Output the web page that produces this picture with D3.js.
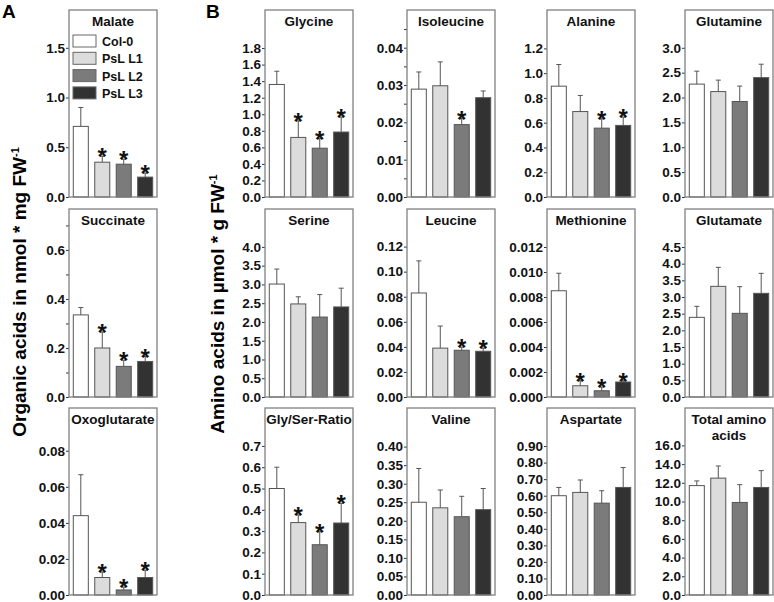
<!DOCTYPE html>
<html>
<head>
<meta charset="utf-8">
<script src="https://cdn.jsdelivr.net/npm/d3@7"></script>
<style>
  body { margin: 0; background: #fff; }
  svg { font-family: Arial, "Liberation Sans", sans-serif; font-weight: bold; }
</style>
</head>
<body>
<script>
//genotypes shown in every panel
var groups = ["Col-0", "PsL L1", "PsL L2", "PsL L3"];
var groupFill = ["#ffffff", "#dcdcdc", "#7b7b7b", "#323232"];

//means and standard deviations
var malate = [0.71, 0.35, 0.33, 0.20],        malateSd = [0.19, 0.06, 0.05, 0.04];
var succinate = [0.335, 0.20, 0.125, 0.145],  succinateSd = [0.03, 0.065, 0.025, 0.02];
var oxoglutarate = [0.044, 0.0097, 0.0028, 0.0097], oxoglutarateSd = [0.0227, 0.003, 0.0016, 0.004];
var glycine = [1.36, 0.72, 0.59, 0.785],      glycineSd = [0.16, 0.20, 0.115, 0.18];
var isoleucine = [0.0289, 0.0298, 0.0194, 0.0266], isoleucineSd = [0.0046, 0.0064, 0.0016, 0.0018];
var alanine = [0.895, 0.69, 0.556, 0.578],    alanineSd = [0.175, 0.13, 0.075, 0.067];
var glutamine = [2.27, 2.12, 1.92, 2.40],     glutamineSd = [0.26, 0.23, 0.31, 0.27];
var serine = [3.01, 2.48, 2.13, 2.40],        serineSd = [0.40, 0.19, 0.60, 0.50];
var leucine = [0.083, 0.039, 0.0373, 0.0365], leucineSd = [0.0256, 0.0176, 0.0025, 0.0025];
var methionine = [0.0085, 0.0009, 0.0005, 0.0012], methionineSd = [0.0014, 0.0004, 0.0003, 0.0001];
var glutamate = [2.39, 3.32, 2.51, 3.11],     glutamateSd = [0.33, 0.57, 0.80, 0.60];
var glyser = [0.50, 0.34, 0.236, 0.338],      glyserSd = [0.10, 0.036, 0.061, 0.092];
var valine = [0.250, 0.235, 0.211, 0.230],    valineSd = [0.091, 0.048, 0.055, 0.057];
var aspartate = [0.60, 0.62, 0.555, 0.65],    aspartateSd = [0.05, 0.075, 0.075, 0.12];
var totalaa = [11.7, 12.5, 9.9, 11.5],        totalaaSd = [0.5, 1.3, 1.9, 1.8];

//significance marks (one flag per genotype)
var sigAll = [false, true, true, true];
var sigNone = [false, false, false, false];

//tick labels per panel
var malateTicks = [0, 0.5, 1.0, 1.5];
var succinateTicks = [0, 0.2, 0.4, 0.6];
var oxoTicks = [0, 0.02, 0.04, 0.06, 0.08];
var glycineTicks = [0, 0.2, 0.4, 0.6, 0.8, 1.0, 1.2, 1.4, 1.6, 1.8];
var isoleucineTicks = [0, 0.01, 0.02, 0.03, 0.04];
var alanineTicks = [0, 0.2, 0.4, 0.6, 0.8, 1.0, 1.2];
var glutamineTicks = [0, 0.5, 1.0, 1.5, 2.0, 2.5, 3.0];
var serineTicks = [0, 0.5, 1.0, 1.5, 2.0, 2.5, 3.0, 3.5, 4.0];
var leucineTicks = [0, 0.02, 0.04, 0.06, 0.08, 0.10, 0.12];
var methionineTicks = [0, 0.002, 0.004, 0.006, 0.008, 0.010, 0.012];
var glutamateTicks = [0, 0.5, 1.0, 1.5, 2.0, 2.5, 3.0, 3.5, 4.0, 4.5];
var glyserTicks = [0, 0.1, 0.2, 0.3, 0.4, 0.5, 0.6, 0.7];
var valineTicks = [0, 0.05, 0.10, 0.15, 0.20, 0.25, 0.30, 0.35, 0.40];
var aspartateTicks = [0, 0.1, 0.2, 0.3, 0.4, 0.5, 0.6, 0.7, 0.8, 0.9];
var totalTicks = [0, 2, 4, 6, 8, 10, 12, 14, 16];

var width = 774, height = 602;

var svg = d3.select("body").append("svg")
    .attr("width", width)
    .attr("height", height);

//panel frame positions
var colX = [69, 265, 407, 547, 685];
var rowTop = [10, 209, 408];
var rowBottom = [197, 397, 595];
var frameW = 88;

var panels = [
    {title: ["Malate"], col: 0, row: 0, v: malate, sd: malateSd, sig: sigAll, max: 1.88, ticks: malateTicks, dec: 1, legend: true},
    {title: ["Succinate"], col: 0, row: 1, v: succinate, sd: succinateSd, sig: sigAll, max: 0.767, ticks: succinateTicks, dec: 1, minor: 0.1},
    {title: ["Oxoglutarate"], col: 0, row: 2, v: oxoglutarate, sd: oxoglutarateSd, sig: sigAll, max: 0.1037, ticks: oxoTicks, dec: 2},
    {title: ["Glycine"], col: 1, row: 0, v: glycine, sd: glycineSd, sig: sigAll, max: 2.26, ticks: glycineTicks, dec: 1},
    {title: ["Isoleucine"], col: 2, row: 0, v: isoleucine, sd: isoleucineSd, sig: [false, false, true, false], max: 0.0501, ticks: isoleucineTicks, dec: 2, minor: 0.005},
    {title: ["Alanine"], col: 3, row: 0, v: alanine, sd: alanineSd, sig: [false, false, true, true], max: 1.51, ticks: alanineTicks, dec: 1},
    {title: ["Glutamine"], col: 4, row: 0, v: glutamine, sd: glutamineSd, sig: sigNone, max: 3.76, ticks: glutamineTicks, dec: 1},
    {title: ["Serine"], col: 1, row: 1, v: serine, sd: serineSd, sig: sigNone, max: 5.01, ticks: serineTicks, dec: 1},
    {title: ["Leucine"], col: 2, row: 1, v: leucine, sd: leucineSd, sig: [false, false, true, true], max: 0.150, ticks: leucineTicks, dec: 2},
    {title: ["Methionine"], col: 3, row: 1, v: methionine, sd: methionineSd, sig: sigAll, max: 0.01504, ticks: methionineTicks, dec: 3},
    {title: ["Glutamate"], col: 4, row: 1, v: glutamate, sd: glutamateSd, sig: sigNone, max: 5.64, ticks: glutamateTicks, dec: 1},
    {title: ["Gly/Ser-Ratio"], col: 1, row: 2, v: glyser, sd: glyserSd, sig: sigAll, max: 0.878, ticks: glyserTicks, dec: 1},
    {title: ["Valine"], col: 2, row: 2, v: valine, sd: valineSd, sig: sigNone, max: 0.504, ticks: valineTicks, dec: 2},
    {title: ["Aspartate"], col: 3, row: 2, v: aspartate, sd: aspartateSd, sig: sigNone, max: 1.13, ticks: aspartateTicks, dec: 2},
    {title: ["Total amino", "acids"], col: 4, row: 2, v: totalaa, sd: totalaaSd, sig: sigNone, max: 20.0, ticks: totalTicks, dec: 1}
];

panels.forEach(function(p){
    var x0 = colX[p.col], top = rowTop[p.row], bottom = rowBottom[p.row];

    var x = d3.scaleBand()
        .domain(groups)
        .range([x0, x0 + frameW])
        .paddingInner(0.3)
        .paddingOuter(0.2);

    var y = d3.scaleLinear()
        .domain([0, p.max])
        .range([bottom, top]);

    var g = svg.append("g").attr("class", "panel");

    //minor ticks
    if (p.minor){
        var minorVals = d3.range(p.minor, p.max, p.minor * 2);
        g.append("g")
            .attr("transform", "translate(" + x0 + ",0)")
            .call(d3.axisLeft(y).tickValues(minorVals).tickSize(3).tickFormat(""))
            .call(function(a){ a.select(".domain").remove(); })
            .selectAll("line").attr("stroke", "#333");
    }

    //major ticks
    var axis = g.append("g")
        .attr("transform", "translate(" + x0 + ",0)")
        .call(d3.axisLeft(y)
            .tickValues(p.ticks)
            .tickSize(3)
            .tickPadding(1)
            .tickFormat(d3.format("." + p.dec + "f")));
    axis.select(".domain").remove();
    axis.selectAll("line").attr("stroke", "#333");
    axis.selectAll("text")
        .attr("fill", "#111")
        .style("font-size", "13.5px")
        .style("font-weight", "bold")
        .style("font-family", "Arial, 'Liberation Sans', sans-serif");

    //bars
    g.selectAll(".bar")
        .data(p.v)
        .enter()
        .append("rect")
        .attr("class", "bar")
        .attr("x", function(d, i){ return x(groups[i]); })
        .attr("y", function(d){ return y(d); })
        .attr("width", x.bandwidth())
        .attr("height", function(d){ return bottom - y(d); })
        .attr("fill", function(d, i){ return groupFill[i]; })
        .attr("stroke", "#555")
        .attr("stroke-width", 1);

    //error bars (upper only)
    p.v.forEach(function(d, i){
        var cx = x(groups[i]) + x.bandwidth() / 2;
        var yTop = y(d + p.sd[i]);
        g.append("line")
            .attr("x1", cx).attr("x2", cx)
            .attr("y1", y(d)).attr("y2", yTop)
            .attr("stroke", "#555").attr("stroke-width", 1);
        g.append("line")
            .attr("x1", cx - 2.5).attr("x2", cx + 2.5)
            .attr("y1", yTop).attr("y2", yTop)
            .attr("stroke", "#555").attr("stroke-width", 1);
        if (p.sig[i]){
            g.append("text")
                .attr("x", cx)
                .attr("y", yTop + 9)
                .attr("text-anchor", "middle")
                .style("font-size", "24px")
                .attr("fill", "#111")
                .text("*");
        }
    });

    //frame
    g.append("rect")
        .attr("x", x0).attr("y", top)
        .attr("width", frameW).attr("height", bottom - top)
        .attr("fill", "none")
        .attr("stroke", "#808080")
        .attr("stroke-width", 1.3);

    //title
    p.title.forEach(function(t, k){
        g.append("text")
            .attr("x", x0 + frameW / 2)
            .attr("y", top + 16 + k * 16)
            .attr("text-anchor", "middle")
            .style("font-size", "13.5px")
            .attr("fill", "#111")
            .text(t);
    });

    //legend in first panel
    if (p.legend){
        var leg = g.selectAll(".legend")
            .data(groups)
            .enter()
            .append("g")
            .attr("class", "legend")
            .attr("transform", function(d, i){ return "translate(" + (x0 + 4) + "," + (35 + i * 17.3) + ")"; });
        leg.append("rect")
            .attr("width", 23).attr("height", 12)
            .attr("fill", function(d, i){ return groupFill[i]; })
            .attr("stroke", "#666");
        leg.append("text")
            .attr("x", 29).attr("y", 11)
            .style("font-size", "12.5px")
            .attr("fill", "#111")
            .text(function(d){ return d; });
    }
});

//panel letters
svg.append("text").attr("x", 2).attr("y", 18).style("font-size", "19px").text("A");
svg.append("text").attr("x", 206).attr("y", 18).style("font-size", "19px").text("B");

//y axis titles
var titleA = svg.append("text")
    .attr("transform", "translate(26,292) rotate(-90)")
    .attr("text-anchor", "middle")
    .style("font-size", "19px");
titleA.append("tspan").text("Organic acids in nmol * mg FW");
titleA.append("tspan").attr("dy", -7).style("font-size", "11px").text("-1");

var titleB = svg.append("text")
    .attr("transform", "translate(224,304) rotate(-90)")
    .attr("text-anchor", "middle")
    .style("font-size", "19px");
titleB.append("tspan").text("Amino acids in \u00b5mol * g FW");
titleB.append("tspan").attr("dy", -7).style("font-size", "11px").text("-1");
</script>
</body>
</html>
